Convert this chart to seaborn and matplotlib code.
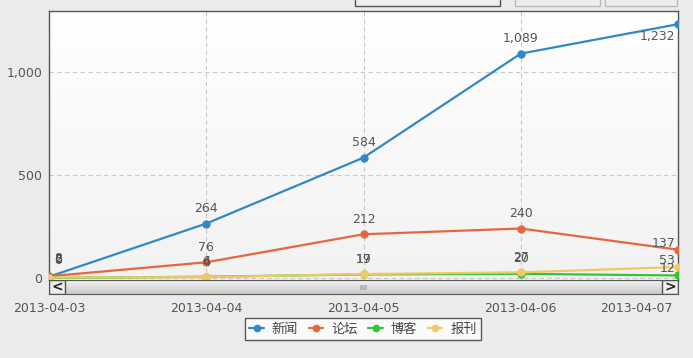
import numpy as np
import pandas as pd
import matplotlib
matplotlib.use("Agg")
import matplotlib.pyplot as plt
import matplotlib.transforms as mtransforms
from matplotlib.patches import Rectangle
import seaborn as sns

# chart data
dates = ["2013-04-03", "2013-04-04", "2013-04-05", "2013-04-06", "2013-04-07"]
series_names = ["新闻", "论坛", "博客", "报刊"]
news = [6, 264, 584, 1089, 1232]
forum = [8, 76, 212, 240, 137]
blog = [0, 6, 17, 20, 12]
paper = [2, 4, 19, 27, 53]
colors = ["#3089c6", "#e4673f", "#35c435", "#f0c865"]

sns.set_style("white")
plt.rcParams["font.family"] = ["DejaVu Sans", "Noto Sans CJK SC"]

rows = []
for name, vals in zip(series_names, [news, forum, blog, paper]):
    for i, v in enumerate(vals):
        rows.append({"idx": i, "value": v, "series": name})
df = pd.DataFrame(rows)

W, H = 693, 358
fig = plt.figure(figsize=(W / 100, H / 100), dpi=100)
fig.patch.set_facecolor("#ebebeb")

def px_box(x0, y0, x1, y1):
    return [x0 / W, 1 - y1 / H, (x1 - x0) / W, (y1 - y0) / H]

ax = fig.add_axes(px_box(49, 11, 678, 280))

# plot background gradient, white on top, light grey at the bottom
grad = np.linspace(0, 1, 256).reshape(-1, 1)
ax.imshow(grad, extent=[0, 4, -10, 1296], aspect="auto", origin="upper",
          cmap=matplotlib.colors.LinearSegmentedColormap.from_list("bg", ["#ffffff", "#f2f2f2"]),
          zorder=0)

sns.lineplot(data=df, x="idx", y="value", hue="series", hue_order=series_names,
             palette=colors, marker="o", markersize=6, markeredgewidth=0,
             linewidth=1.6, legend=False, ax=ax, zorder=3)

ax.set_xlim(0, 4)
ax.set_ylim(-10, 1296)
ax.set_xlabel("")
ax.set_ylabel("")
ax.set_yticks([0, 500, 1000])
ax.set_yticklabels(["0", "500", "1,000"])
ax.set_xticks(range(len(dates)))
ax.set_xticklabels(dates)
ax.tick_params(axis="both", length=0, labelsize=9, labelcolor="#555555")
ax.tick_params(axis="x", pad=16)
ax.tick_params(axis="y", pad=5)
last = ax.get_xticklabels()[-1]
last.set_horizontalalignment("right")
last.set_transform(last.get_transform() + mtransforms.ScaledTranslation(-0.05, 0, fig.dpi_scale_trans))

ax.grid(True, linestyle=(0, (4, 3)), color="#c8c8c8", linewidth=0.8)
for s in ax.spines.values():
    s.set_color("#555555")
    s.set_linewidth(1)
ax.spines["bottom"].set_visible(False)

# value labels
for name, vals, c in zip(series_names, [news, forum, blog, paper], colors):
    for i, v in enumerate(vals):
        txt = f"{v:,}"
        if i == 0:
            ax.annotate(txt, (i, v), xytext=(4, 8), textcoords="offset points",
                        ha="left", va="bottom", fontsize=9, color="#555555", zorder=5)
        elif i == len(vals) - 1:
            off = (-2, -4) if name == "新闻" else (-2, 0)
            va = "top" if name == "新闻" else "bottom"
            ax.annotate(txt, (i, v), xytext=off, textcoords="offset points",
                        ha="right", va=va, fontsize=9, color="#555555", zorder=5)
        else:
            ax.annotate(txt, (i, v), xytext=(0, 6), textcoords="offset points",
                        ha="center", va="bottom", fontsize=9, color="#555555", zorder=5)

# scrollbar strip under the plot
sb = fig.add_axes(px_box(49, 280, 678, 294))
sb.imshow(np.linspace(0, 1, 64).reshape(-1, 1), extent=[0, 1, 0, 1], aspect="auto",
          cmap=matplotlib.colors.LinearSegmentedColormap.from_list("sb", ["#f2f2f2", "#c9c9c9"]))
sb.set_xlim(0, 1)
sb.set_ylim(0, 1)
sb.set_xticks([])
sb.set_yticks([])
for s in sb.spines.values():
    s.set_color("#555555")
bw = 16 / 629
sb.add_patch(Rectangle((0, 0), bw, 1, facecolor="#eeeeee", edgecolor="#555555", lw=1))
sb.add_patch(Rectangle((1 - bw, 0), bw, 1, facecolor="#eeeeee", edgecolor="#555555", lw=1))
sb.text(bw / 2, 0.45, "<", ha="center", va="center", fontsize=10, fontweight="bold", color="#222222")
sb.text(1 - bw / 2, 0.45, ">", ha="center", va="center", fontsize=10, fontweight="bold", color="#222222")
sb.text(0.5, 0.4, "IIII", ha="center", va="center", fontsize=5, color="#777777")

# buttons partially visible at top right
for x0, x1, ec in [(355, 500, "#555555"), (515, 600, "#bbbbbb"), (605, 677, "#bbbbbb")]:
    fig.add_artist(Rectangle((x0 / W, 1 - 6 / H), (x1 - x0) / W, 8 / H,
                             transform=fig.transFigure, facecolor="#eeeeee",
                             edgecolor=ec, lw=1))

# legend
handles = [plt.Line2D([], [], color=c, marker="o", markersize=4.5, lw=1.6) for c in colors]
leg = fig.legend(handles, series_names, loc="center", ncol=4,
                 bbox_to_anchor=(363 / W, 1 - 329 / H), frameon=True, fancybox=False,
                 shadow=False, handlelength=1.1, columnspacing=0.8,
                 handletextpad=0.6, borderpad=0.35, borderaxespad=0,
                 prop={"family": ["Noto Sans CJK SC"], "size": 9.5})
leg.get_frame().set_edgecolor("#333333")
leg.get_frame().set_facecolor("white")
leg.get_frame().set_linewidth(1)
for t in leg.get_texts():
    t.set_color("#444444")

fig.savefig("out.png", dpi=100, facecolor=fig.get_facecolor())
